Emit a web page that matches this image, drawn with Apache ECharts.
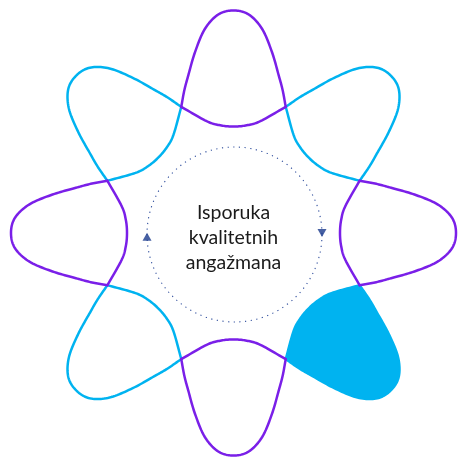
<!DOCTYPE html>
<html>
<head>
<meta charset="utf-8">
<script src="https://cdn.jsdelivr.net/npm/echarts@6/dist/echarts.min.js"></script>
<style>
html,body{margin:0;padding:0;background:#fff;}
#chart{width:459px;height:459px;}
</style>
</head>
<body>
<div id="chart"></div>
<script>
// Petal axis angles (degrees, counter-clockwise from east)
const purplePetalAngles = [90, 0, 270, 180];
const cyanPetalAngles = [45, 135, 225, 315];
const filledPetalAngles = [315];
// Petal outline: angular offset from petal axis and radius
const outerOffsets = [22.5, 19, 16, 12, 8, 4, 0, -4, -8, -12, -16, -19, -22.5];
const outerRadii   = [136.5, 151, 164, 185, 206, 219, 222.5, 219, 206, 185, 164, 151, 136.5];
const innerOffsets = [22.5, 13.5, 7, 0, -7, -13.5, -22.5];
const innerRadii   = [136.5, 115, 108.5, 106.5, 108.5, 115, 136.5];
// Dotted ring and its arrows
const ringRadius = 87.5;
const arrowAngles = [181.5, 1];
const arrowRotations = [0, 180];
// Centre label
const labelLines = ['Isporuka', 'kvalitetnih', 'angažmana'];

const PURPLE = '#7A1FE8';
const CYAN = '#00B3F0';

function norm(a) { return ((a % 360) + 360) % 360; }

function spline(pts) {
  const out = [];
  const n = pts.length;
  const get = (i) => {
    if (i < 0) return [2 * pts[0][0] - pts[1][0], 2 * pts[0][1] - pts[1][1]];
    if (i >= n) return [2 * pts[n - 1][0] - pts[n - 2][0], 2 * pts[n - 1][1] - pts[n - 2][1]];
    return pts[i];
  };
  const steps = 12;
  for (let i = 0; i < n - 1; i++) {
    const p0 = get(i - 1), p1 = get(i), p2 = get(i + 1), p3 = get(i + 2);
    for (let s = 0; s < steps; s++) {
      const t = s / steps, t2 = t * t, t3 = t2 * t;
      const q = [0, 1].map(k => 0.5 * (2 * p1[k] + (-p0[k] + p2[k]) * t +
        (2 * p0[k] - 5 * p1[k] + 4 * p2[k] - p3[k]) * t2 +
        (-p0[k] + 3 * p1[k] - 3 * p2[k] + p3[k]) * t3));
      out.push(q);
    }
  }
  out.push(pts[n - 1]);
  return out;
}

function petal(api, angle) {
  const outer = outerOffsets.map((o, i) => api.coord([outerRadii[i], norm(angle + o)]));
  const inner = innerOffsets.map((o, i) => api.coord([innerRadii[i], norm(angle + o)]));
  return { outer: spline(outer), inner: spline(inner) };
}

function strokeRenderer(color) {
  return function (params, api) {
    const p = petal(api, api.value(1));
    const style = { stroke: color, lineWidth: 2.5, fill: null, lineJoin: 'round', lineCap: 'round' };
    return {
      type: 'group',
      children: [
        { type: 'polyline', shape: { points: p.outer }, style: style },
        { type: 'polyline', shape: { points: p.inner }, style: style }
      ]
    };
  };
}

function fillRenderer(color) {
  return function (params, api) {
    const p = petal(api, api.value(1));
    return {
      type: 'polygon',
      shape: { points: p.outer.concat(p.inner.slice().reverse()) },
      style: { fill: color, stroke: color, lineWidth: 2.5, lineJoin: 'round' }
    };
  };
}

const chart = echarts.init(document.getElementById('chart'), null, { renderer: 'canvas' });
chart.setOption({
  animation: false,
  backgroundColor: '#ffffff',
  polar: [
    { center: [233.5, 233], radius: 230 },
    { center: [234.5, 234.5], radius: ringRadius }
  ],
  angleAxis: [
    { polarIndex: 0, type: 'value', min: 0, max: 360, startAngle: 0, clockwise: false, show: false },
    { polarIndex: 1, type: 'value', min: 0, max: 360, startAngle: 0, clockwise: false,
      axisLine: { show: true, lineStyle: { color: '#2D4C9C', width: 1.1, type: [1.2, 4.5], opacity: 1 } },
      axisTick: { show: false }, axisLabel: { show: false }, splitLine: { show: false } }
  ],
  radiusAxis: [
    { polarIndex: 0, type: 'value', min: 0, max: 230, show: false },
    { polarIndex: 1, type: 'value', min: 0, max: ringRadius, show: false }
  ],
  series: [
    { type: 'custom', coordinateSystem: 'polar', polarIndex: 0, z: 1,
      data: filledPetalAngles.map(a => [0, a]), renderItem: fillRenderer(CYAN) },
    { type: 'custom', coordinateSystem: 'polar', polarIndex: 0, z: 2,
      data: cyanPetalAngles.filter(a => filledPetalAngles.indexOf(a) < 0).map(a => [0, a]),
      renderItem: strokeRenderer(CYAN) },
    { type: 'custom', coordinateSystem: 'polar', polarIndex: 0, z: 3,
      data: purplePetalAngles.map(a => [0, a]), renderItem: strokeRenderer(PURPLE) },
    { type: 'scatter', coordinateSystem: 'polar', polarIndex: 1, z: 4,
      symbol: 'triangle', symbolSize: [9, 8],
      itemStyle: { color: '#1A3A8C' },
      data: arrowAngles.map((a, i) => ({ value: [ringRadius, a], symbolRotate: arrowRotations[i] })) }
  ],
  graphic: [{
    type: 'text', x: 233.5, y: 238, z: 10,
    style: {
      text: labelLines.join('\n'),
      font: '19.5px Lato',
      fill: '#1b1b1b',
      align: 'center',
      verticalAlign: 'middle',
      lineHeight: 25
    }
  }]
});
</script>
</body>
</html>
